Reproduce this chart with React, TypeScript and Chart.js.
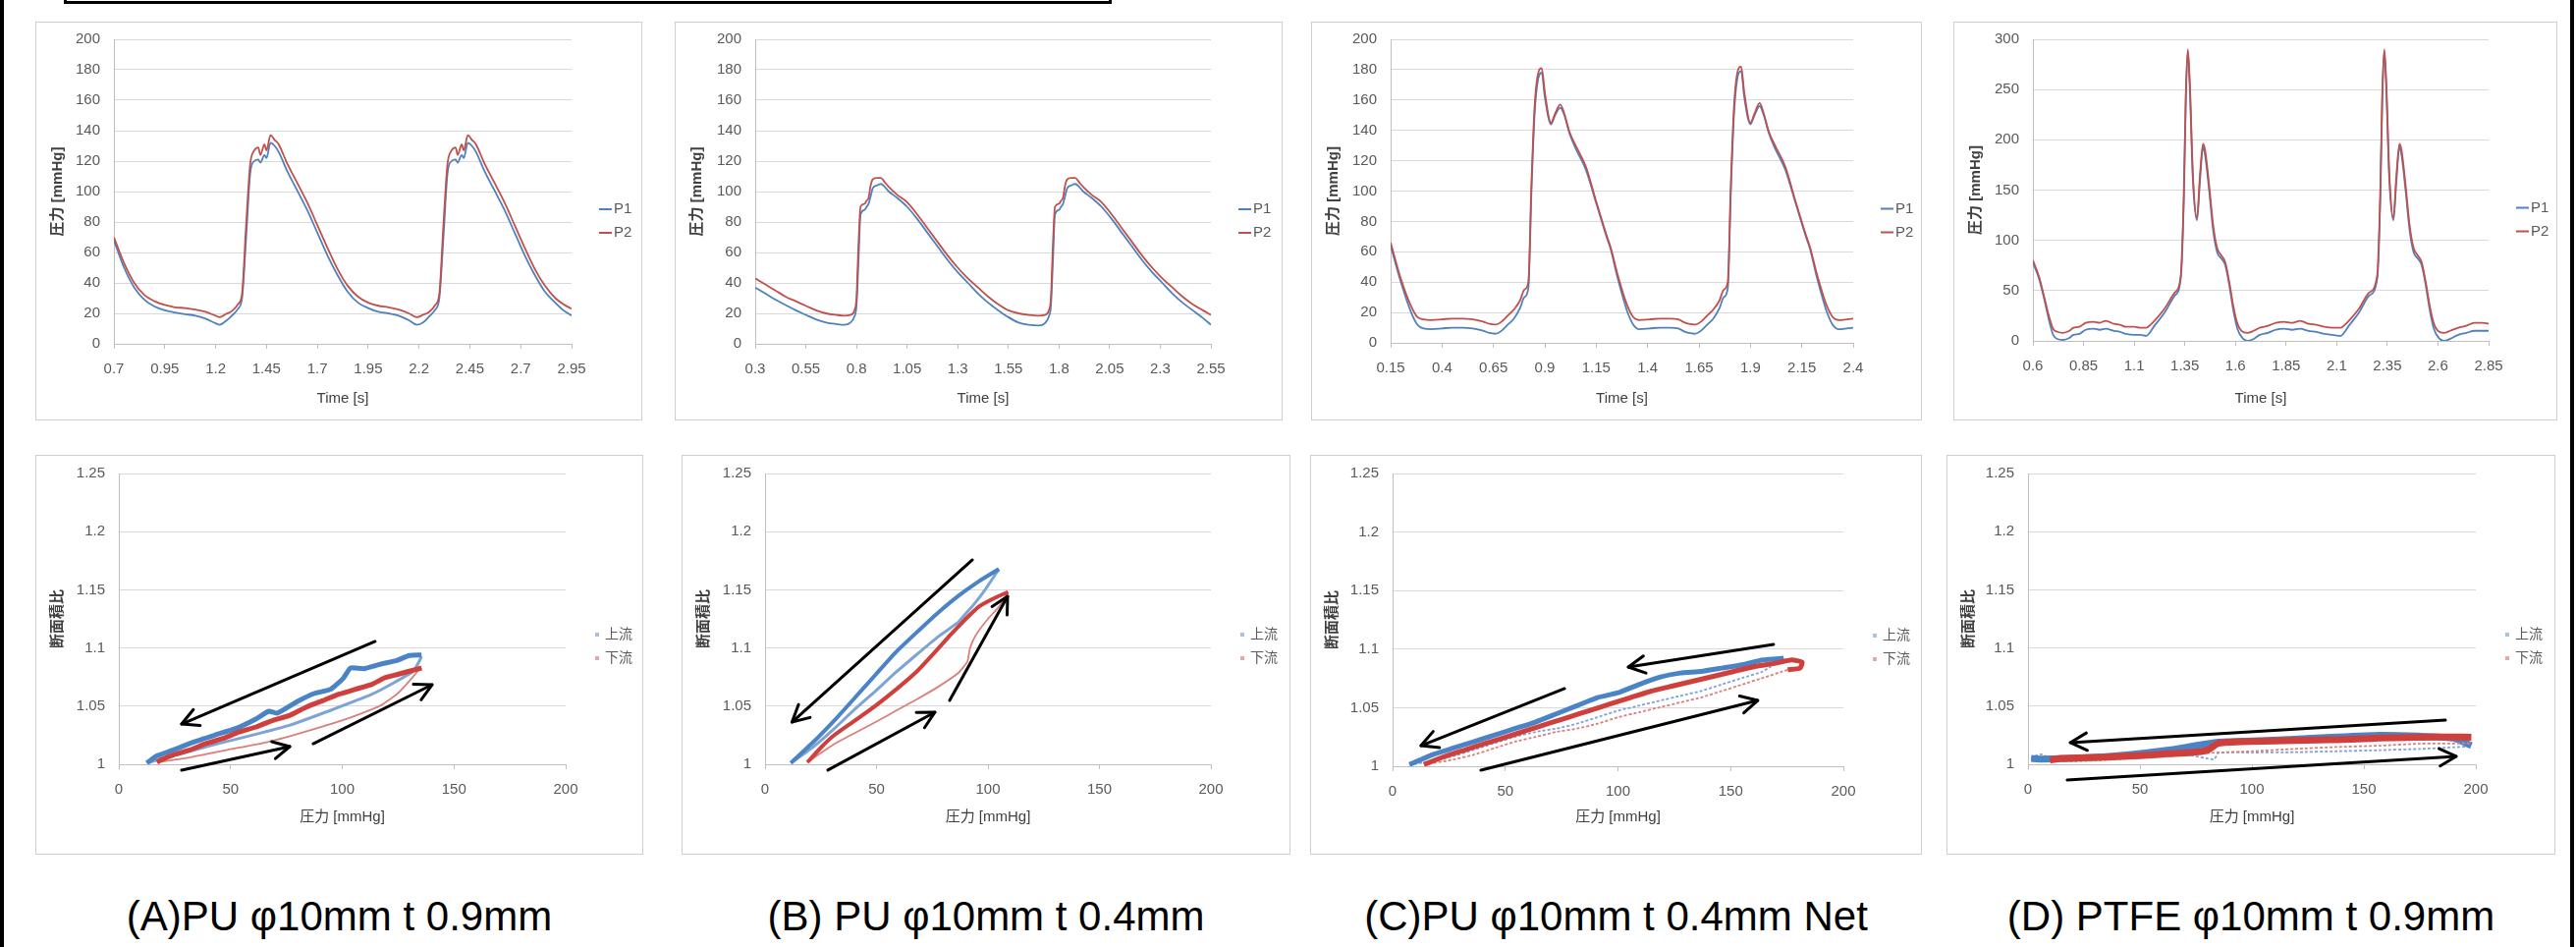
import React, { useEffect, useRef } from "react";
import { Chart, registerables } from "chart.js";

Chart.register(...registerables);

const FONT = '"Liberation Sans", Arial, "Noto Sans CJK JP", sans-serif';
Chart.defaults.font.family = FONT;

// ---------------- top row: pressure waveforms ----------------
const A_TIME = [0.70,0.75,0.80,0.85,0.90, 0.95,1.00,1.05,1.10,1.15, 1.20,1.22,1.25,1.28,1.31, 1.33,1.35,1.37,1.39,1.41, 1.42,1.44,1.45,1.47,1.49, 1.51,1.55,1.60,1.65,1.70, 1.75,1.80,1.85,1.90,1.95, 2.00,2.05,2.10,2.15,2.19, 2.22,2.25,2.28,2.30,2.32, 2.34,2.36,2.38,2.39,2.41, 2.42,2.44,2.46,2.48,2.52, 2.57,2.62,2.67,2.72,2.77, 2.82,2.87,2.91,2.95];
const A_P1 = [68,50,37,29,24.5, 22,20.5,19.5,18.5,16.5, 13.5,12.5,15,18.5,23, 30,70,112,120,121, 119,124,122,132,130, 126,114,101,88,73, 58,45,34,27,23.5, 21,20,18.5,15.5,12.5, 14,18,22.5,30,70, 112,120,121,119,124, 122,132,130,126,114, 101,88,73,58,45, 34,27,22,18.5];
const A_P2 = [70,53,40,32,28, 25.5,24,23.5,22.5,21, 18.5,17.5,19.5,21.5,26, 33,78,118,127,129, 124,131,127,137,134, 131,119,106,93,78, 63,49,38,31,27, 25,24,22.5,20,17.5, 19,21,25.5,33,78, 118,127,129,124,131, 127,137,134,131,119, 106,93,78,63,49, 38,30,26,23];

const B_TIME = [0.30,0.35,0.40,0.45,0.50, 0.55,0.60,0.65,0.70,0.74, 0.77,0.79,0.80,0.81,0.82, 0.84,0.85,0.86,0.87,0.88, 0.90,0.92,0.94,0.96,1.00, 1.05,1.10,1.15,1.20,1.25, 1.30,1.35,1.40,1.45,1.50, 1.55,1.60,1.65,1.70,1.73, 1.75,1.76,1.77,1.78,1.80, 1.81,1.82,1.83,1.84,1.86, 1.88,1.90,1.92,1.96,2.01, 2.06,2.11,2.16,2.21,2.26, 2.31,2.36,2.41,2.46,2.51, 2.55];
const B_P1 = [37,33,29,25.5,22, 19,16,14,13,12.5, 14,18,25,55,85, 88,90,92,97,102, 104,105,103,100,96, 90,82,73,64,55, 47,40,33,27,22, 17.5,14,12.5,12,13.5, 18,25,55,85,88, 90,92,97,102,104, 105,103,100,96,90, 82,73,64,55,47, 40,33,27,22,17, 12.5];
const B_P2 = [43,39,35,31,28, 25,22,20,19,18.5, 19,22,30,65,90, 92,94,96,104,108, 109,109,106,103,98, 93,85,76,67,58, 50,43,37,31,26, 22,20,19,18.5,19, 22,30,65,90,92, 94,96,104,108,109, 109,106,103,98,93, 85,76,67,58,50, 43,37,31,26,22, 19];

const C_TIME = [0.15,0.20,0.25,0.28,0.31, 0.35,0.40,0.45,0.50,0.55, 0.60,0.63,0.66,0.69,0.72, 0.75,0.78,0.80,0.82,0.835, 0.85,0.865,0.885,0.90,0.93, 0.95,0.975,0.995,1.02,1.05, 1.10,1.15,1.20,1.22,1.25, 1.28,1.30,1.33,1.36,1.41, 1.46,1.51,1.55,1.57,1.60, 1.63,1.66,1.69,1.72,1.75, 1.77,1.79,1.805,1.82,1.835, 1.855,1.87,1.90,1.92,1.945, 1.965,1.99,2.02,2.07,2.12, 2.17,2.19,2.22,2.25,2.27, 2.30,2.33,2.37,2.40];
const C_P1 = [64,40,20,12,9.5, 9,9.5,10,10,9.5, 8,6.5,6,8,12, 16,23,30,36,100, 150,172,178,162,144, 150,155,150,138,128, 114,92,70,62,45, 30,21,12,9,9.5, 10,10,9.5,8,6.5, 6,8,12,16,23, 30,36,100,150,173, 179,162,144,150,156, 150,138,128,114,92, 70,62,45,30,21, 12,9,9.5,10];
const C_P2 = [66,42,24,17,15.5, 15,15.5,16,16,15.5, 14,12.5,12,14,18, 22,28,35,40,105, 155,176,181,165,145, 151,157,151,139,130, 116,93,71,63,47, 33,25,17,15,15.5, 16,16,15.5,14,12.5, 12,14,18,22,28, 35,40,105,155,177, 182,165,145,151,158, 151,139,130,116,93, 71,63,47,33,25, 17,15,15.5,16];

const D_TIME = [0.60,0.63,0.66,0.68,0.70, 0.72,0.75,0.78,0.80,0.83, 0.86,0.90,0.93,0.96,1.00, 1.03,1.06,1.10,1.13,1.16, 1.18,1.20,1.25,1.30,1.33, 1.345,1.355,1.365,1.375,1.39, 1.41,1.425,1.44,1.45,1.47, 1.49,1.51,1.53,1.55,1.57, 1.59,1.61,1.63,1.66,1.69, 1.72,1.76,1.80,1.84,1.88, 1.92,1.96,2.00,2.04,2.08, 2.12,2.14,2.16,2.21,2.26, 2.30,2.315,2.325,2.335,2.345, 2.36,2.38,2.395,2.41,2.42, 2.44,2.46,2.48,2.50,2.52, 2.54,2.56,2.58,2.60,2.63, 2.66,2.70,2.74,2.78,2.82, 2.85];
const D_P1 = [78,62,38,20,6, 2,1,3,6,7, 11,12,11,12,10, 9,7,6,6,5, 9,15,28,45,62, 140,240,288,250,160, 120,160,193,185,150, 110,88,82,75,55, 30,12,4,0,2, 6,8,11,12,11, 12,10,9,7,6, 5,9,15,28,45, 62,140,240,288,250, 160,120,160,193,185, 150,110,88,82,75, 55,30,12,4,0, 2,6,8,10,10, 10];
const D_P2 = [80,64,40,24,12, 9,8,10,13,14, 18,19,18,20,17, 16,14,14,13,13, 16,20,32,48,65, 145,245,290,255,165, 122,165,196,190,155, 115,92,85,78,58, 34,17,10,8,10, 13,15,18,19,18, 20,17,16,14,13, 13,16,20,32,48, 65,145,245,290,255, 165,122,165,196,190, 155,115,92,85,78, 58,34,17,10,8, 10,13,15,18,18, 17];

const A_X_TICKS = [0.7, 0.95, 1.2, 1.45, 1.7, 1.95, 2.2, 2.45, 2.7, 2.95];
const B_X_TICKS = [0.3, 0.55, 0.8, 1.05, 1.3, 1.55, 1.8, 2.05, 2.3, 2.55];
const C_X_TICKS = [0.15, 0.4, 0.65, 0.9, 1.15, 1.4, 1.65, 1.9, 2.15, 2.4];
const D_X_TICKS = [0.6, 0.85, 1.1, 1.35, 1.6, 1.85, 2.1, 2.35, 2.6, 2.85];
const P_Y_TICKS = [0, 20, 40, 60, 80, 100, 120, 140, 160, 180, 200];
const D_Y_TICKS = [0, 50, 100, 150, 200, 250, 300];
const TOP_SERIES = ["P1", "P2"];

// ---------------- bottom row: area ratio vs pressure loops ----------------
type Pt = [number, number];
const A_UP_DESC: Pt[] = [[135.5,1.094],[130,1.0935],[124.4,1.0892],[117,1.0861],[109.6,1.0822],[103.7,1.0828],[100.4,1.0738],[94.8,1.0645],[87.4,1.0608],[80,1.0541],[70.8,1.0439],[67.1,1.0456],[61.5,1.0391],[52.3,1.0307],[43,1.0251],[33.8,1.0194],[24.5,1.0124],[17.1,1.0073],[12.5,1.0011]];
const A_UP_ASC: Pt[] = [[13.4,1.0017],[39.3,1.0152],[76.3,1.0335],[113.3,1.0602],[131.8,1.08],[135.5,1.0926]];
const A_DN_DESC: Pt[] = [[135.5,1.0828],[130,1.08],[124.4,1.0771],[118.9,1.0743],[113.3,1.0687],[105.9,1.0645],[98.5,1.0602],[91.1,1.0546],[83.7,1.049],[76.3,1.0419],[68.9,1.0377],[61.5,1.0321],[54.1,1.0279],[46.7,1.0222],[39.3,1.018],[31.9,1.0124],[24.5,1.0082],[19,1.0039],[17.1,1.0017]];
const A_DN_ASC: Pt[] = [[17.1,1.0017],[30.1,1.0053],[48.6,1.0124],[67.1,1.0194],[85.6,1.0293],[104.1,1.0405],[117,1.0504],[124.4,1.0602],[130,1.0715],[133.7,1.08],[135.5,1.0828]];

const B_UP_DESC: Pt[] = [[104.9,1.1678],[96,1.1574],[86.7,1.1447],[77.5,1.1301],[68.2,1.1137],[58.9,1.0968],[49.6,1.0771],[40.4,1.0574],[31.1,1.0377],[21.8,1.0194],[11.6,1.0011]];
const B_UP_ASC: Pt[] = [[11.6,1.0011],[21.8,1.0152],[31.1,1.0307],[40.4,1.0476],[49.6,1.0631],[58.9,1.0794],[68.2,1.0946],[77.5,1.1095],[86.7,1.1222],[89.5,1.1284],[93.2,1.1363],[98.8,1.1503],[104.9,1.1678]];
const B_DN_DESC: Pt[] = [[109,1.1481],[103.4,1.1433],[96,1.1357],[92.3,1.1292],[88.6,1.1222],[83,1.1109],[77.5,1.0991],[68.2,1.08],[58.9,1.0645],[49.6,1.0504],[40.4,1.0377],[31.1,1.0251],[25.5,1.0152],[19,1.0017]];
const B_DN_ASC: Pt[] = [[19,1.0017],[31.1,1.0175],[40.4,1.027],[49.6,1.0363],[58.9,1.0462],[68.2,1.056],[77.5,1.0664],[86.7,1.0785],[90.8,1.0884],[91.9,1.0997],[94.5,1.1109],[99.7,1.1244],[105.3,1.1363],[109,1.1481]];

const C_UP_DESC: Pt[] = [[173.5,1.0922],[164.3,1.0908],[155.1,1.0866],[146,1.0838],[136.8,1.081],[127.6,1.0796],[118.4,1.076],[109.3,1.0698],[100.1,1.0628],[90.9,1.0587],[81.8,1.0517],[72.6,1.0447],[63.4,1.0377],[54.2,1.0321],[45.1,1.0265],[35.9,1.0209],[26.7,1.0154],[17.6,1.0098],[7.5,1.0014]];
const C_UP_ASC: Pt[] = [[7.5,1.0014],[17.6,1.0042],[26.7,1.0084],[35.9,1.014],[45.1,1.0196],[54.2,1.0251],[63.4,1.0293],[72.6,1.0321],[81.8,1.0363],[90.9,1.0419],[100.1,1.0475],[109.3,1.0517],[118.4,1.0559],[127.6,1.0601],[136.8,1.0642],[146,1.0698],[155.1,1.0754],[164.3,1.081],[173.5,1.0922]];
const C_DN_DESC: Pt[] = [[175.3,1.0824],[180.8,1.0838],[181.7,1.0888],[177.1,1.0908],[169.8,1.088],[160.6,1.0852],[151.4,1.081],[142.3,1.0768],[133.1,1.0726],[123.9,1.0684],[114.8,1.0642],[105.6,1.0587],[96.4,1.0531],[87.3,1.0475],[78.1,1.0419],[68.9,1.0363],[59.7,1.0307],[50.6,1.0251],[41.4,1.0196],[32.2,1.014],[23.1,1.0084],[13.9,1.0014]];
const C_DN_ASC: Pt[] = [[13.9,1.0014],[26.7,1.0056],[35.9,1.0098],[45.1,1.0154],[54.2,1.0209],[63.4,1.0251],[72.6,1.0293],[81.8,1.0321],[90.9,1.0363],[100.1,1.0419],[109.3,1.0461],[118.4,1.0503],[127.6,1.0545],[136.8,1.0587],[146,1.0642],[155.1,1.0698],[164.3,1.0754],[175.3,1.0824]];

const D_UP_DESC: Pt[] = [[198,1.016],[190,1.0225],[175,1.0242],[157,1.025],[138,1.0235],[119,1.0215],[100,1.02],[85,1.019],[62,1.012],[44,1.008],[25,1.0055],[6,1.0045],[1.4,1.005]];
const D_UP_ASC: Pt[] = [[1.4,1.0045],[3,1.007],[6,1.0085],[9,1.006],[12,1.005],[40,1.0065],[70,1.0085],[83,1.0042],[85,1.0098],[100,1.0101],[119,1.0104],[138,1.0112],[157,1.0121],[175,1.0132],[190,1.0146],[198,1.0155]];
const D_DN_DESC: Pt[] = [[198,1.0232],[190,1.0235],[175,1.0233],[170,1.023],[157,1.0225],[150,1.022],[138,1.0212],[130,1.021],[119,1.0205],[110,1.02],[100,1.0197],[95,1.0195],[85,1.018],[80,1.012],[72,1.01],[62,1.009],[55,1.008],[44,1.007],[35,1.0062],[25,1.0056],[15,1.005],[9.8,1.0037]];
const D_DN_ASC: Pt[] = [[9.8,1.0028],[25,1.0028],[44,1.0048],[62,1.007],[81,1.0098],[100,1.0112],[119,1.0132],[138,1.0149],[157,1.016],[175,1.0177],[198,1.018]];

const R_X_TICKS = [0, 50, 100, 150, 200];
const R_Y_TICKS = [1, 1.05, 1.1, 1.15, 1.2, 1.25];
const R_Y_LABELS = ["1", "1.05", "1.1", "1.15", "1.2", "1.25"];
const BOTTOM_SERIES = ["上流", "下流"];

// hand-drawn annotation arrows in data units: [fromX, fromY, toX, toY]
const A_ARROWS = [[114.7,1.1056,28.1,1.0346],[28.1,0.9949,76.5,1.0152],[87,1.0177,140.2,1.0684]];
const B_ARROWS = [[93,1.1757,12.1,1.0363],[28.2,0.995,76.2,1.0448],[82.8,1.0549,108.8,1.1444]];
const C_ARROWS = [[169,1.104,104.6,1.0847],[76.3,1.0663,12.6,1.0176],[39.2,0.9966,162,1.0562]];
const D_ARROWS = [[186.4,1.038,18.9,1.0186],[17.5,0.9865,191.2,1.0068]];

const CAPTIONS = ["(A)PU φ10mm t 0.9mm", "(B) PU φ10mm t 0.4mm", "(C)PU φ10mm t 0.4mm Net", "(D) PTFE φ10mm t 0.9mm"];

// ---------------- styles ----------------
const BLUE = "#4f81bd";
const RED = "#c0504d";
const BLUE_T = "#4a84c6";
const RED_T = "#cf3f3c";
const BLUE_L = "#7da4d4";
const RED_L = "#d9807c";
const TICK = "#595959";
const TITLE = "#404040";
const GRID = "#d9d9d9";
const AXIS = "#bfbfbf";

type Layout = { box: [number, number, number, number]; plot: [number, number, number, number] };
const TOP_LAYOUT: Layout[] = [
  { box: [36, 22, 618, 406], plot: [116, 582, 40, 350] },
  { box: [687, 22, 619, 406], plot: [769, 1233, 40, 350] },
  { box: [1335, 22, 622, 406], plot: [1416, 1887, 40, 349] },
  { box: [1989, 22, 615, 406], plot: [2070, 2534, 40, 347] },
];
const BOTTOM_LAYOUT: Layout[] = [
  { box: [36, 463, 619, 407], plot: [121, 576, 482, 778] },
  { box: [694, 463, 620, 407], plot: [779, 1233, 482, 778] },
  { box: [1334, 463, 623, 407], plot: [1418, 1877, 482, 780] },
  { box: [1982, 463, 620, 407], plot: [2065, 2521, 482, 778] },
];

function layoutOpts(l: Layout) {
  const [bx, by, bw, bh] = l.box;
  const [pl, pr, pt, pb] = l.plot;
  return {
    padding: { left: 0, top: pt - by, right: bx + bw - pr, bottom: 0 },
    yWidth: pl - bx,
    xHeight: by + bh - pb,
  };
}

function legendPlugin(labels: string[], colors: string[], kind: "line" | "dot") {
  return {
    id: "customLegend",
    afterDraw(chart: any) {
      const { ctx, chartArea } = chart;
      const cy = (chartArea.top + chartArea.bottom) / 2 + (kind === "line" ? 30 : 28);
      ctx.save();
      ctx.font = (kind === "line" ? "15px " : "14px ") + FONT;
      ctx.textBaseline = "middle";
      labels.forEach((lab, i) => {
        const y = cy + (i === 0 ? -12 : 12);
        if (kind === "line") {
          const x0 = chartArea.right + 28;
          ctx.strokeStyle = colors[i];
          ctx.lineWidth = 2;
          ctx.beginPath();
          ctx.moveTo(x0, y);
          ctx.lineTo(x0 + 13, y);
          ctx.stroke();
          ctx.fillStyle = TICK;
          ctx.fillText(lab, x0 + 15, y);
        } else {
          const x0 = chartArea.right + 30;
          ctx.fillStyle = colors[i];
          ctx.fillRect(x0, y - 2, 4, 4);
          ctx.fillStyle = TICK;
          ctx.fillText(lab, x0 + 10, y);
        }
      });
      ctx.restore();
    },
  };
}

function arrowPlugin(arrows: number[][]) {
  return {
    id: "arrows",
    afterDatasetsDraw(chart: any) {
      const { ctx } = chart;
      const xs = chart.scales.x;
      const ys = chart.scales.y;
      ctx.save();
      ctx.strokeStyle = "#000";
      ctx.lineWidth = 3;
      ctx.lineCap = "round";
      ctx.lineJoin = "round";
      for (const [x1, y1, x2, y2] of arrows) {
        const p1x = xs.getPixelForValue(x1), p1y = ys.getPixelForValue(y1);
        const p2x = xs.getPixelForValue(x2), p2y = ys.getPixelForValue(y2);
        ctx.beginPath();
        ctx.moveTo(p1x, p1y);
        ctx.lineTo(p2x, p2y);
        ctx.stroke();
        const ang = Math.atan2(p2y - p1y, p2x - p1x);
        const L = 19, a = Math.PI / 6.5;
        ctx.beginPath();
        ctx.moveTo(p2x - L * Math.cos(ang - a), p2y - L * Math.sin(ang - a));
        ctx.lineTo(p2x, p2y);
        ctx.lineTo(p2x - L * Math.cos(ang + a), p2y - L * Math.sin(ang + a));
        ctx.stroke();
      }
      ctx.restore();
    },
  };
}

type TopSpec = { layout: Layout; time: number[]; p1: number[]; p2: number[]; xTicks: number[]; yTicks: number[] };
type LoopSpec = { layout: Layout; upDesc: Pt[]; upAsc: Pt[]; dnDesc: Pt[]; dnAsc: Pt[]; arrows: number[][]; thick: number; dashedAsc: boolean };

const TOP_SPECS: TopSpec[] = [
  { layout: TOP_LAYOUT[0], time: A_TIME, p1: A_P1, p2: A_P2, xTicks: A_X_TICKS, yTicks: P_Y_TICKS },
  { layout: TOP_LAYOUT[1], time: B_TIME, p1: B_P1, p2: B_P2, xTicks: B_X_TICKS, yTicks: P_Y_TICKS },
  { layout: TOP_LAYOUT[2], time: C_TIME, p1: C_P1, p2: C_P2, xTicks: C_X_TICKS, yTicks: P_Y_TICKS },
  { layout: TOP_LAYOUT[3], time: D_TIME, p1: D_P1, p2: D_P2, xTicks: D_X_TICKS, yTicks: D_Y_TICKS },
];
const LOOP_SPECS: LoopSpec[] = [
  { layout: BOTTOM_LAYOUT[0], upDesc: A_UP_DESC, upAsc: A_UP_ASC, dnDesc: A_DN_DESC, dnAsc: A_DN_ASC, arrows: A_ARROWS, thick: 5, dashedAsc: false },
  { layout: BOTTOM_LAYOUT[1], upDesc: B_UP_DESC, upAsc: B_UP_ASC, dnDesc: B_DN_DESC, dnAsc: B_DN_ASC, arrows: B_ARROWS, thick: 4, dashedAsc: false },
  { layout: BOTTOM_LAYOUT[2], upDesc: C_UP_DESC, upAsc: C_UP_ASC, dnDesc: C_DN_DESC, dnAsc: C_DN_ASC, arrows: C_ARROWS, thick: 5, dashedAsc: true },
  { layout: BOTTOM_LAYOUT[3], upDesc: D_UP_DESC, upAsc: D_UP_ASC, dnDesc: D_DN_DESC, dnAsc: D_DN_ASC, arrows: D_ARROWS, thick: 7, dashedAsc: true },
];

function commonScales(l: Layout, xTicks: number[], yTicks: number[], yLabels: string[], xTitle: string, yTitle: string, xTitlePad: number) {
  const lo = layoutOpts(l);
  return {
    x: {
      type: "linear",
      min: xTicks[0],
      max: xTicks[xTicks.length - 1],
      afterBuildTicks: (s: any) => { s.ticks = xTicks.map((v) => ({ value: v })); },
      afterFit: (s: any) => { s.height = lo.xHeight; s.paddingLeft = 0; s.paddingRight = 0; },
      ticks: { autoSkip: false, maxRotation: 0, padding: 12, font: { size: 15 }, color: TICK, callback: (_v: any, i: number) => String(xTicks[i]) },
      grid: { drawOnChartArea: false, drawTicks: true, tickLength: 5, color: AXIS },
      border: { display: true, color: AXIS },
      title: { display: true, text: xTitle, font: { size: 15 }, color: TITLE, padding: { top: 0, bottom: xTitlePad } },
    },
    y: {
      type: "linear",
      min: yTicks[0],
      max: yTicks[yTicks.length - 1],
      afterBuildTicks: (s: any) => { s.ticks = yTicks.map((v) => ({ value: v })); },
      afterFit: (s: any) => { s.width = lo.yWidth; s.paddingTop = 0; s.paddingBottom = 0; },
      ticks: { padding: 14, font: { size: 15 }, color: TICK, callback: (_v: any, i: number) => yLabels[i] },
      grid: { drawTicks: false, color: GRID },
      border: { display: true, color: AXIS },
      title: { display: true, text: yTitle, font: { size: 15, weight: "bold" }, color: TITLE, padding: { top: 14, bottom: 0 } },
    },
  };
}

function topConfig(s: TopSpec): any {
  const lo = layoutOpts(s.layout);
  return {
    type: "line",
    data: {
      datasets: [
        { label: TOP_SERIES[1], data: s.time.map((t, i) => ({ x: t, y: s.p2[i] })), borderColor: RED, borderWidth: 1.8, pointRadius: 0, cubicInterpolationMode: "monotone", fill: false, order: 0 },
        { label: TOP_SERIES[0], data: s.time.map((t, i) => ({ x: t, y: s.p1[i] })), borderColor: BLUE, borderWidth: 1.8, pointRadius: 0, cubicInterpolationMode: "monotone", fill: false, order: 1 },
      ],
    },
    options: {
      responsive: false,
      animation: false,
      devicePixelRatio: 1,
      events: [],
      layout: { padding: lo.padding },
      plugins: { legend: { display: false }, tooltip: { enabled: false } },
      scales: commonScales(s.layout, s.xTicks, s.yTicks, s.yTicks.map(String), "Time [s]", "圧力 [mmHg]", 13),
    },
    plugins: [legendPlugin(TOP_SERIES, [BLUE, RED], "line")],
  };
}

function loopConfig(s: LoopSpec): any {
  const lo = layoutOpts(s.layout);
  const ds = (pts: Pt[], color: string, width: number, order: number, dash: number[] = []) => ({
    data: pts.map(([x, y]) => ({ x, y })),
    showLine: true,
    borderColor: color,
    backgroundColor: color,
    borderWidth: width,
    borderDash: dash,
    pointRadius: 0,
    tension: 0.15,
    order,
  });
  const thin = s.dashedAsc ? [3, 2] : [];
  return {
    type: "scatter",
    data: {
      datasets: [
        ds(s.dnDesc, RED_T, s.thick, 0),
        ds(s.dnAsc, RED_L, 1.8, 1, thin),
        ds(s.upDesc, BLUE_T, s.thick, 2),
        ds(s.upAsc, BLUE_L, s.dashedAsc ? 1.8 : 3, 3, thin),
      ],
    },
    options: {
      responsive: false,
      animation: false,
      devicePixelRatio: 1,
      events: [],
      layout: { padding: lo.padding },
      plugins: { legend: { display: false }, tooltip: { enabled: false } },
      scales: commonScales(s.layout, R_X_TICKS, R_Y_TICKS, R_Y_LABELS, "圧力 [mmHg]", "断面積比", 29),
    },
    plugins: [arrowPlugin(s.arrows), legendPlugin(BOTTOM_SERIES, ["#a9c2e3", "#e3a9a7"], "dot")],
  };
}

function Panel({ layout, config }: { layout: Layout; config: () => any }) {
  const ref = useRef<HTMLCanvasElement>(null);
  useEffect(() => {
    const chart = new Chart(ref.current as HTMLCanvasElement, config());
    return () => chart.destroy();
  }, []);
  const [bx, by, bw, bh] = layout.box;
  return (
    <>
      <div style={{ position: "absolute", left: bx, top: by, width: bw, height: bh, boxSizing: "border-box", border: "1.5px solid #cfcfcf", background: "#fff" }} />
      <canvas ref={ref} width={bw} height={bh} style={{ position: "absolute", left: bx, top: by, width: bw, height: bh }} />
    </>
  );
}

export default function App() {
  return (
    <div style={{ position: "absolute", left: 0, top: 0, width: 2623, height: 964, background: "#fff", overflow: "hidden" }}>
      <div style={{ position: "absolute", left: 0, top: -10, width: 2621, height: 1000, boxSizing: "border-box", borderLeft: "4px solid #000", borderRight: "4px solid #000" }} />
      <div style={{ position: "absolute", left: 65, top: -20, width: 1067, height: 24, boxSizing: "border-box", border: "3px solid #000" }} />
      {TOP_SPECS.map((s, i) => (
        <Panel key={"t" + i} layout={s.layout} config={() => topConfig(s)} />
      ))}
      {LOOP_SPECS.map((s, i) => (
        <Panel key={"b" + i} layout={s.layout} config={() => loopConfig(s)} />
      ))}
      {CAPTIONS.map((c, i) => {
        const [bx, , bw] = BOTTOM_LAYOUT[i].box;
        const cx = bx + bw / 2;
        return (
          <div key={"c" + i} style={{ position: "absolute", left: cx - 400, width: 800, top: 912, textAlign: "center", fontFamily: FONT, fontSize: 42, lineHeight: "42px", color: "#000", whiteSpace: "nowrap" }}>
            {c}
          </div>
        );
      })}
    </div>
  );
}
